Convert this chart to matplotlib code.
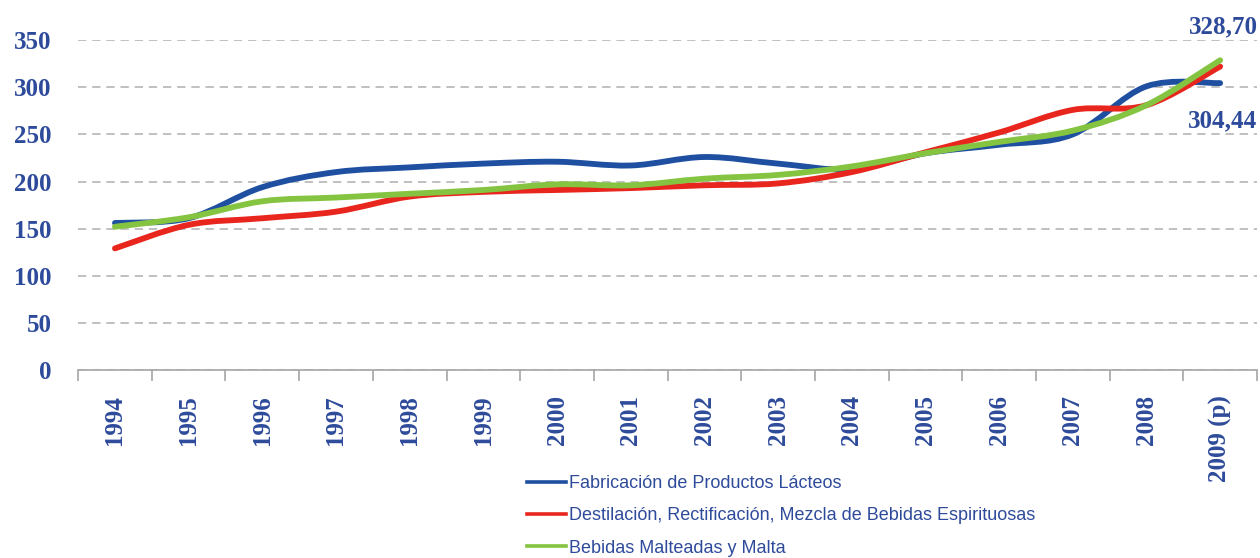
import matplotlib.pyplot as plt
from matplotlib.path import Path
from matplotlib.patches import PathPatch
from matplotlib.lines import Line2D

# Data
years = ['1994', '1995', '1996', '1997', '1998', '1999', '2000', '2001',
         '2002', '2003', '2004', '2005', '2006', '2007', '2008', '2009 (p)']
lacteos = [156, 161, 194, 210, 215, 219, 221, 217, 226, 219, 213, 230, 239, 250, 301, 304.44]
destilacion = [129, 154, 161, 168, 184, 189, 191, 193, 196, 198, 210, 231, 252, 276, 281, 322]
malteadas = [152, 162, 179, 183, 187, 191, 197, 196, 203, 207, 216, 230, 242, 254, 281, 328.70]
labels = ['Fabricación de Productos Lácteos',
          'Destilación, Rectificación, Mezcla de Bebidas Espirituosas',
          'Bebidas Malteadas y Malta']
colors = ['#1f4fa0', '#e8261e', '#84c441']

text_blue = '#2e4b9b'
tick_font = ['Liberation Serif', 'DejaVu Serif']
legend_font = ['Liberation Sans', 'DejaVu Sans']


def smooth_path(xs, ys):
    # Excel-like smoothed line: Catmull-Rom segments as cubic Bezier curves
    pts = list(zip(xs, ys))
    n = len(pts)
    verts = [pts[0]]
    codes = [Path.MOVETO]
    for i in range(n - 1):
        p0 = pts[i - 1] if i > 0 else pts[i]
        p1 = pts[i]
        p2 = pts[i + 1]
        p3 = pts[i + 2] if i + 2 < n else pts[i + 1]
        c1 = (p1[0] + (p2[0] - p0[0]) / 6, p1[1] + (p2[1] - p0[1]) / 6)
        c2 = (p2[0] - (p3[0] - p1[0]) / 6, p2[1] - (p3[1] - p1[1]) / 6)
        verts += [c1, c2, p2]
        codes += [Path.CURVE4] * 3
    return Path(verts, codes)


fig = plt.figure(figsize=(12.6, 5.58), dpi=100)
ax = fig.add_axes([0.062, 0.337, 0.9356, 0.591])

x = list(range(len(years)))
handles = []
for ys, c, lab in zip([lacteos, destilacion, malteadas], colors, labels):
    patch = PathPatch(smooth_path(x, ys), facecolor='none', edgecolor=c,
                      linewidth=4.2, capstyle='round', joinstyle='round', zorder=3)
    ax.add_patch(patch)
    handles.append(Line2D([], [], color=c, linewidth=2.6, label=lab))

ax.set_xlim(-0.5, len(years) - 0.5)
ax.set_ylim(0, 350)

# y axis
ax.set_yticks(range(0, 351, 50))
ax.tick_params(axis='y', length=0, pad=19, labelsize=18, labelcolor=text_blue)
ax.yaxis.grid(True, color='#b5b5b5', linestyle=(0, (5, 3.5)), linewidth=1.2)
ax.set_axisbelow(True)

# x axis: tick marks between categories, labels centered
ax.set_xticks([i - 0.5 for i in range(len(years) + 1)])
ax.set_xticklabels([])
ax.set_xticks(x, minor=True)
ax.set_xticklabels(years, minor=True, rotation=90)
ax.tick_params(axis='x', which='major', length=8, width=1.2, color='#a6a6a6', direction='out')
ax.tick_params(axis='x', which='minor', length=0, pad=18, labelsize=18, labelcolor=text_blue)

for lbl in ax.get_yticklabels() + ax.get_xticklabels(minor=True):
    lbl.set_family(tick_font)
    lbl.set_fontweight('bold')

for s in ['top', 'right', 'left']:
    ax.spines[s].set_visible(False)
ax.spines['bottom'].set_color('#a6a6a6')
ax.spines['bottom'].set_linewidth(1.2)

# value labels for the last year
ax.annotate('328,70', xy=(x[-1], malteadas[-1]), xytext=(27, 24), textcoords='offset points',
            ha='right', va='center', fontsize=18, fontweight='bold', color=text_blue,
            family=tick_font, annotation_clip=False)
ax.annotate('304,44', xy=(x[-1], lacteos[-1]), xytext=(27, -27), textcoords='offset points',
            ha='right', va='center', fontsize=18, fontweight='bold', color=text_blue,
            family=tick_font, annotation_clip=False)

leg = fig.legend(handles=handles, loc='upper left', bbox_to_anchor=(0.418, 0.149),
                 frameon=False, handlelength=2.2, handletextpad=0.17, labelspacing=0.85,
                 borderaxespad=0, borderpad=0, labelcolor=text_blue,
                 prop={'family': legend_font, 'size': 13})

plt.savefig('out.png', dpi=100)
